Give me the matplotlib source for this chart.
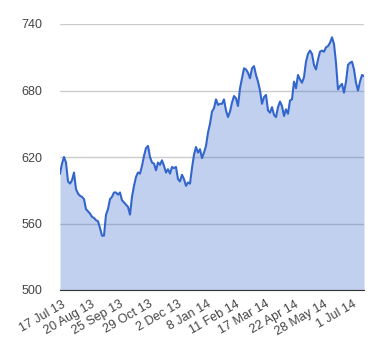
import numpy as np
import matplotlib
matplotlib.use('Agg')
import matplotlib.pyplot as plt

plt.rcParams['font.family'] = ['Liberation Sans', 'DejaVu Sans']

# closing values at even steps
values = [605, 614, 620, 615, 598, 596, 599, 606, 591, 587,
          585, 584, 582, 573, 571, 569, 566, 565, 563, 562,
          556, 549, 549, 568, 573, 582, 584, 588, 588, 586,
          588, 581, 579, 577, 575, 568, 584, 594, 602, 606,
          605, 612, 621, 628, 630, 620, 615, 614, 608, 615,
          613, 617, 612, 606, 609, 605, 611, 610, 611, 600,
          598, 604, 600, 594, 597, 596, 610, 622, 629, 624,
          627, 619, 624, 630, 642, 650, 661, 664, 672, 667,
          668, 668, 672, 662, 656, 661, 669, 675, 673, 666,
          682, 691, 700, 699, 696, 691, 700, 702, 694, 688,
          680, 668, 674, 676, 662, 660, 665, 658, 656, 665,
          670, 666, 657, 663, 659, 671, 672, 688, 682, 694,
          690, 687, 692, 706, 713, 716, 713, 703, 699, 708,
          715, 716, 715, 719, 720, 723, 728, 722, 705, 681,
          684, 686, 678, 688, 703, 705, 706, 699, 687, 680,
          688, 694, 693]

date_labels = ['17 Jul 13', '20 Aug 13', '25 Sep 13', '29 Oct 13', '2 Dec 13',
               '8 Jan 14', '11 Feb 14', '17 Mar 14', '22 Apr 14', '28 May 14',
               '1 Jul 14']
y_ticks = [500, 560, 620, 680, 740]

x = np.arange(len(values))

fig = plt.figure(figsize=(3.8, 3.6), dpi=100)
ax = fig.add_axes([60 / 380, 1 - 290 / 360, 304 / 380, 266 / 360])

ax.fill_between(x, 500, values, color='#3366cc', alpha=0.3, linewidth=0, zorder=2)
ax.plot(x, values, color='#3366cc', linewidth=1.5, zorder=3)

ax.set_xlim(0, len(values) - 1)
ax.set_ylim(500, 740)

ax.set_yticks(y_ticks)
ax.yaxis.grid(True, color='#cccccc', linewidth=1, zorder=1)
ax.set_axisbelow(True)

tick_pos = 0.7 + 14.55 * np.arange(len(date_labels))
ax.set_xticks(tick_pos)
ax.set_xticklabels(date_labels, rotation=30, ha='right', rotation_mode='anchor')

ax.tick_params(length=0, labelsize=9, labelcolor='#444444')
ax.tick_params(axis='y', pad=13)
ax.tick_params(axis='x', pad=6)

for side in ['top', 'right', 'left']:
    ax.spines[side].set_visible(False)
ax.spines['bottom'].set_color('#333333')
ax.spines['bottom'].set_zorder(4)

fig.savefig('out.png', dpi=100)
